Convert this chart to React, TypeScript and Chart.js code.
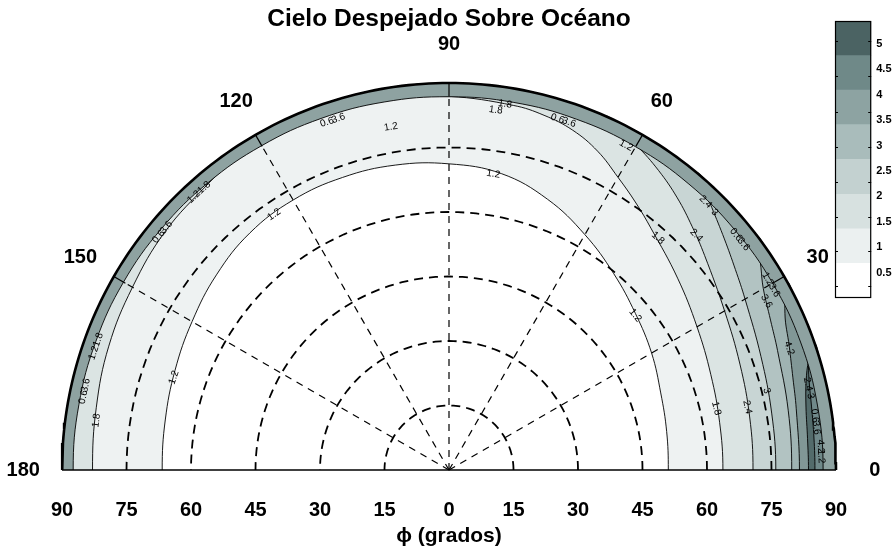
import React, { useEffect, useRef } from "react";
import { Chart, registerables } from "chart.js";

Chart.register(...registerables);

const FONT = "'Liberation Sans', Arial, Helvetica, sans-serif";

// ---------- text ----------
const TITLE = "Cielo Despejado Sobre Océano";
const X_AXIS_TITLE = "ϕ (grados)";
const X_TICKS = [-90, -75, -60, -45, -30, -15, 0, 15, 30, 45, 60, 75, 90];
const ANGLE_LABELS = [0, 30, 60, 90, 120, 150, 180];
const ANGLE_LABEL_R = 99;

// ---------- polar grid ----------
const OUTER_R = 90;
const GRID_RADII = [15, 30, 45, 60, 75];
const RADIAL_ANGLES = [30, 60, 90, 120, 150];
const RING_INNER = 86.9;

// ---------- contour boundaries: [azimuth phi (deg), zenith r (deg)] ----------
type P = [number, number];
const CONTOUR_1_2: P[] = [[0, 51], [10, 51.4], [20, 52.4], [30, 54.4], [40, 56.6], [50, 59.6], [60, 63.2], [70, 67], [80, 70], [90, 71.2], [100, 72], [110, 72.4], [120, 72.5], [130, 72], [140, 70.6], [150, 69], [160, 67.8], [170, 67], [180, 66.7]];
const CONTOUR_1_8: P[] = [[0, 63.7], [10, 63.9], [20, 64.8], [30, 66.6], [40, 69.4], [50, 73.2], [55, 75.8], [60, 78.6], [65, 81.8], [70, 84.1], [75, 85.4], [80, 86.1], [90, 86.9], [100, 88], [110, 88.6], [120, 88.4], [125, 87.8], [130, 87], [140, 86.2], [150, 85], [160, 84.2], [170, 83.3], [180, 82.9]];
const CONTOUR_2_4: P[] = [[0, 70.7], [10, 71], [20, 72], [30, 74], [40, 77.6], [45, 80], [50, 82.6], [55, 85], [60, 87.2], [66, 90]];
const CONTOUR_3_0: P[] = [[0, 76], [10, 76.2], [20, 77.2], [30, 79.5], [35, 81.3], [40, 83.6], [45, 86.4], [50, 90]];
const CONTOUR_3_6: P[] = [[0, 79.7], [10, 80.1], [20, 81.3], [25, 82.5], [30, 84.4], [33, 86.5], [37, 90]];
const CONTOUR_4_2: P[] = [[0, 81.5], [10, 82], [15, 82.8], [20, 84.2], [25, 86.2], [29, 90]];
const CONTOUR_4_8: P[] = [[0, 83.6], [5, 83.7], [10, 84.3], [14, 85.6], [17, 87.5], [19, 90]];
const CONTOUR_TONGUE: P[] = [[0, 85.1], [5, 85.2], [10, 85.6], [14, 86.3], [17, 87.4], [20, 89], [22, 90]];
const CONTOUR_RING: P[] = [[0, 87], [10, 87], [20, 87], [30, 86.9], [40, 86.8], [50, 86.8], [60, 86.8], [70, 86.8], [80, 86.8], [90, 86.8], [100, 86.9], [110, 87], [120, 87.1], [130, 87.2], [140, 87.3], [150, 87.4], [160, 87.4], [170, 87.4], [180, 87.4]];

const BAND_COLOR_1_2 = "#eef2f2";
const BAND_COLOR_1_8 = "#dbe4e3";
const BAND_COLOR_2_4 = "#c8d5d4";
const BAND_COLOR_3_0 = "#b2c3c2";
const BAND_COLOR_3_6 = "#9fb3b2";
const BAND_COLOR_4_2 = "#819796";
const BAND_COLOR_4_8 = "#536b6b";
const BAND_COLOR_TONGUE = "#70898a";
const BAND_COLOR_RING = "#8ea2a1";

// contour labels: [phi, r, text, tangential offset px]
const CONTOUR_LABELS: [number, number, string, number][] = [
  [81.5, 69.6, "1.2", 0], [124.4, 72.0, "1.2", 0], [161.4, 67.5, "1.2", 0], [39.7, 56.3, "1.2", 0],
  [99.6, 80.9, "1.2", 0], [61.4, 86.0, "1.2", 0],
  [48, 72.6, "1.8", 0], [13, 63.8, "1.8", 0], [172, 82.8, "1.8", 0], [81.3, 86.1, "1.8", 0], [82.6, 84.4, "1.8", 0],
  [43.5, 79.3, "2.4", 0], [11.9, 70.9, "2.4", 0],
  [14, 76.1, "3", 0], [28, 83.6, "3.6", 0], [19.7, 84.0, "4.2", 0],
  [45.5, 86.3, "2.4", -5], [45.5, 86.0, "3", 9],
  [30, 86.4, "1.2", -6], [30, 86.4, "3.6", 7],
  [12.5, 85.8, "2.4", -6], [12.5, 85.8, "3", 6],
  [132, 86.9, "1.2", -7], [132, 86.9, "1.8", 7],
  [160.7, 87.0, "1.2", -7], [160.7, 87.0, "1.8", 7],
  [108.4, 85.7, "0.6", -6], [108.4, 85.7, "3.6", 6],
  [71.9, 85.5, "0.6", -6], [71.9, 85.5, "3.6", 6],
  [140.3, 86.6, "0.6", -6], [140.3, 86.6, "3.6", 6],
  [167.8, 86.7, "0.6", -6], [167.8, 86.7, "3.6", 6],
  [38.4, 86.3, "0.6", -6], [38.4, 86.3, "3.6", 6],
  [7.5, 86.0, "0.6", -6], [7.5, 86.0, "3.6", 6],
  [3, 86.6, "4.2", -4], [3, 86.6, "1.2", 6],
];

// ---------- colour bar ----------
const CB_EDGES = [0, 0.68, 1.36, 2.04, 2.73, 3.41, 4.09, 4.77, 5.45];
const CB_COLORS = ["#ffffff", "#ebf0f0", "#d7e1e0", "#c3d1d0", "#a9bcbb", "#8da3a2", "#6f8988", "#4b6363"];
const CB_TICKS = [0.5, 1, 1.5, 2, 2.5, 3, 3.5, 4, 4.5, 5];
const CB_MARKS = [0.24, 0.93, 1.6, 2.29, 2.98, 3.66, 4.36, 5.05];

// ---------- helpers ----------
const D2R = Math.PI / 180;
const polar = (phi: number, r: number) => ({ x: r * Math.cos(phi * D2R), y: r * Math.sin(phi * D2R) });
const arcPoints = (r: number, from: number, to: number, step = 2) => {
  const n = Math.max(1, Math.ceil(Math.abs(to - from) / step));
  const pts: { x: number; y: number }[] = [];
  for (let i = 0; i <= n; i++) pts.push(polar(from + ((to - from) * i) / n, r));
  return pts;
};

function bandPolygon(contour: P[]) {
  const pts: { x: number; y: number }[] = [];
  const [p1, r1] = contour[1];
  pts.push(polar(-p1, r1));
  contour.forEach(([p, r]) => pts.push(polar(p, r)));
  const last = contour[contour.length - 1];
  if (last[0] >= 180) {
    const [pm, rm] = contour[contour.length - 2];
    pts.push(polar(360 - pm, rm));
    pts.push(...arcPoints(OUTER_R, 360 - pm, -p1));
  } else {
    pts.push(...arcPoints(OUTER_R, last[0], -p1).slice(1));
  }
  return pts;
}

const fillDs = (contour: P[], color: string) => ({
  data: bandPolygon(contour),
  backgroundColor: color,
  borderColor: "#000",
  borderWidth: 0.9,
  borderJoinStyle: "round",
  fill: "shape",
  tension: 0.4,
  pointRadius: 0,
  pointHoverRadius: 0,
  clip: 0,
});

const lineDs = (pts: { x: number; y: number }[], width: number, dash: number[] = [], clip: any = false) => ({
  data: pts,
  borderColor: "#000",
  backgroundColor: "#000",
  borderWidth: width,
  borderDash: dash,
  fill: false,
  tension: 0,
  pointRadius: 0,
  pointHoverRadius: 0,
  clip,
});

function buildDatasets() {
  const ds: any[] = [
    fillDs(CONTOUR_1_2, BAND_COLOR_1_2),
    fillDs(CONTOUR_1_8, BAND_COLOR_1_8),
    fillDs(CONTOUR_2_4, BAND_COLOR_2_4),
    fillDs(CONTOUR_3_0, BAND_COLOR_3_0),
    fillDs(CONTOUR_3_6, BAND_COLOR_3_6),
    fillDs(CONTOUR_4_2, BAND_COLOR_4_2),
    fillDs(CONTOUR_4_8, BAND_COLOR_4_8),
    fillDs(CONTOUR_TONGUE, BAND_COLOR_TONGUE),
    fillDs(CONTOUR_RING, BAND_COLOR_RING),
  ];
  GRID_RADII.forEach((r) => ds.push(lineDs(arcPoints(r, 0, 180), 1.8, [9, 6])));
  RADIAL_ANGLES.forEach((a) => {
    ds.push(lineDs([polar(a, 0), polar(a, RING_INNER)], 1.2, [7, 6]));
    ds.push(lineDs([polar(a, RING_INNER), polar(a, OUTER_R)], 1.2));
  });
  ds.push(lineDs(arcPoints(OUTER_R, 0, 180, 1), 2.6));
  ds.push(lineDs([polar(180, OUTER_R), polar(0, OUTER_R)], 1.4));
  const n = ds.length;
  return ds.map((d, i) => ({ ...d, order: n - i }));
}

const polarLabelPlugin = {
  id: "polarLabels",
  afterDatasetsDraw(chart: any) {
    const { ctx } = chart;
    const xs = chart.scales.x;
    const ys = chart.scales.y;
    const px = (phi: number, r: number) => {
      const p = polar(phi, r);
      return [xs.getPixelForValue(p.x), ys.getPixelForValue(p.y)];
    };
    ctx.save();
    ctx.fillStyle = "#000";
    ctx.textAlign = "center";
    ctx.textBaseline = "middle";
    ctx.font = `bold 20px ${FONT}`;
    ANGLE_LABELS.forEach((a) => {
      const [X, Y] = px(a, ANGLE_LABEL_R);
      ctx.fillText(String(a), X, Y);
    });
    ctx.font = `10px ${FONT}`;
    CONTOUR_LABELS.forEach(([phi, r, text, off]) => {
      const [X, Y] = px(phi, r);
      ctx.save();
      ctx.translate(X, Y);
      ctx.rotate((90 - phi) * D2R);
      ctx.fillText(text, off, 0);
      ctx.restore();
    });
    ctx.restore();
  },
};

const colorbarFramePlugin = {
  id: "cbFrame",
  afterDatasetsDraw(chart: any) {
    const { ctx, chartArea: a } = chart;
    const ys = chart.scales.y;
    ctx.save();
    ctx.strokeStyle = "#000";
    ctx.lineWidth = 1.2;
    ctx.strokeRect(a.left + 0.5, a.top + 0.5, a.right - a.left - 1, a.bottom - a.top - 1);
    ctx.lineWidth = 1;
    CB_MARKS.forEach((v) => {
      const y = Math.round(ys.getPixelForValue(v)) + 0.5;
      ctx.beginPath();
      ctx.moveTo(a.left, y);
      ctx.lineTo(a.left + 3, y);
      ctx.moveTo(a.right - 3, y);
      ctx.lineTo(a.right, y);
      ctx.stroke();
    });
    ctx.restore();
  },
};

export default function App() {
  const mainRef = useRef<HTMLCanvasElement>(null);
  const barRef = useRef<HTMLCanvasElement>(null);

  useEffect(() => {
    document.body.style.margin = "0";
    const main = new Chart(mainRef.current as HTMLCanvasElement, {
      type: "line",
      data: { datasets: buildDatasets() as any },
      options: {
        animation: false,
        responsive: false,
        devicePixelRatio: 1,
        events: [],
        layout: { padding: { left: 62, right: 57, top: 0, bottom: 0 } },
        elements: { line: { capBezierPoints: false } },
        plugins: {
          legend: { display: false },
          tooltip: { enabled: false },
          title: {
            display: true,
            text: TITLE,
            color: "#000",
            font: { family: FONT, size: 24.5, weight: "bold" },
            padding: { top: 5, bottom: 48.6 },
          },
        },
        scales: {
          x: {
            type: "linear",
            min: -90,
            max: 90,
            afterBuildTicks: (axis: any) => {
              axis.ticks = X_TICKS.map((v) => ({ value: v }));
            },
            grid: { display: false, drawTicks: false },
            border: { display: false },
            ticks: {
              color: "#000",
              padding: 28,
              maxRotation: 0,
              autoSkip: false,
              font: { family: FONT, size: 20, weight: "bold" },
              callback: (v: any) => String(Math.abs(Number(v))),
            },
            title: {
              display: true,
              text: X_AXIS_TITLE,
              color: "#000",
              font: { family: FONT, size: 21, weight: "bold" },
              padding: { top: -26.2, bottom: 0 },
            },
          },
          y: { type: "linear", min: 0, max: 90, display: false },
        },
      } as any,
      plugins: [polarLabelPlugin],
    });

    const bar = new Chart(barRef.current as HTMLCanvasElement, {
      type: "bar",
      data: {
        labels: ["nivel"],
        datasets: CB_COLORS.map((c, i) => ({
          data: [[CB_EDGES[i], CB_EDGES[i + 1]]],
          backgroundColor: c,
          borderWidth: 0,
          barPercentage: 1,
          categoryPercentage: 1,
          grouped: false,
        })) as any,
      },
      options: {
        animation: false,
        responsive: false,
        devicePixelRatio: 1,
        events: [],
        layout: { padding: { left: 835, top: 21, bottom: 251, right: -3.5 } },
        plugins: { legend: { display: false }, tooltip: { enabled: false } },
        scales: {
          x: { display: false },
          y: {
            position: "right",
            min: 0,
            max: 5.45,
            afterBuildTicks: (axis: any) => {
              axis.ticks = CB_TICKS.map((v) => ({ value: v }));
            },
            grid: { display: false, drawTicks: false },
            border: { display: false },
            ticks: {
              color: "#000",
              padding: 5,
              font: { family: FONT, size: 11, weight: "bold" },
              callback: (v: any) => String(v),
            },
          },
        },
      } as any,
      plugins: [colorbarFramePlugin],
    });

    return () => {
      main.destroy();
      bar.destroy();
    };
  }, []);

  return (
    <div style={{ position: "relative", width: 893, height: 549, background: "#fff" }}>
      <canvas ref={mainRef} width={893} height={549} style={{ position: "absolute", left: 0, top: 0 }} />
      <canvas ref={barRef} width={893} height={549} style={{ position: "absolute", left: 0, top: 0 }} />
    </div>
  );
}
